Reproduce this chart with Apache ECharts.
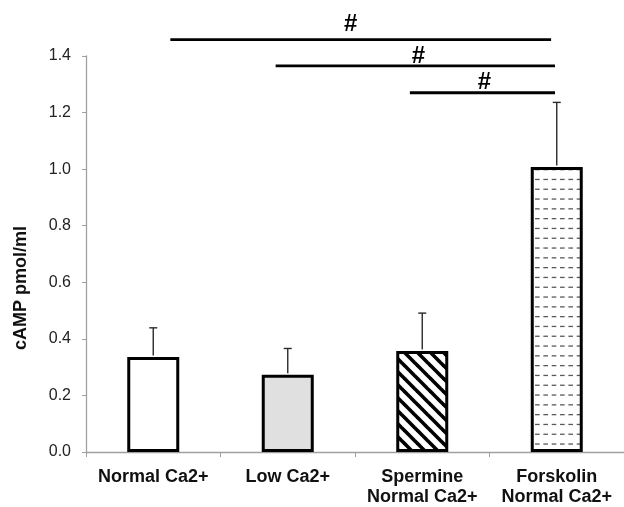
<!DOCTYPE html>
<html>
<head>
<meta charset="utf-8">
<script src="https://cdn.jsdelivr.net/npm/echarts@6/dist/echarts.min.js"></script>
<style>
  html, body { margin: 0; padding: 0; background: #fff; }
  #chart { width: 624px; height: 507px; }
</style>
</head>
<body>
<div id="chart"></div>
<script>
// cAMP levels per treatment group
const categories = ['Normal Ca2+', 'Low Ca2+', 'Spermine\nNormal Ca2+', 'Forskolin\nNormal Ca2+'];
const meanValues = [0.336, 0.273, 0.357, 1.008];
const errorValues = [0.103, 0.093, 0.134, 0.228];

// y axis ticks
const yMin = 0;
const yMax = 1.4;
const yStep = 0.2;

// significance brackets: from group, to group, level (pmol/ml), mark
const bracketFrom = [0, 1, 2];
const bracketTo = [3, 3, 3];
const bracketLevel = [1.458, 1.365, 1.270];
const bracketMark = ['#', '#', '#'];

const FONT = '"Liberation Sans", Arial, Helvetica, sans-serif';

// diagonal hatch fill
function stripePattern() {
  const s = 13;
  const c = document.createElement('canvas');
  c.width = s; c.height = s;
  const ctx = c.getContext('2d');
  ctx.fillStyle = '#fff';
  ctx.fillRect(0, 0, s, s);
  ctx.strokeStyle = '#000';
  ctx.lineWidth = 3.6;
  for (let k = -1; k <= 1; k++) {
    ctx.beginPath();
    ctx.moveTo(k * s - 2, -2);
    ctx.lineTo(k * s + s + 2, s + 2);
    ctx.stroke();
  }
  return { image: c, repeat: 'repeat' };
}

// horizontal dashed-line fill
function dashPattern() {
  const w = 25, h = 49;
  const c = document.createElement('canvas');
  c.width = w; c.height = h;
  const ctx = c.getContext('2d');
  ctx.fillStyle = '#fff';
  ctx.fillRect(0, 0, w, h);
  ctx.fillStyle = '#5a5a5a';
  for (let r = 0; r < 5; r++) {
    const y = 2.4 + r * 9.8;
    for (let j = 0; j < 3; j++) {
      ctx.fillRect(1.7 + j * (w / 3), y, 4.6, 1.3);
    }
  }
  return { image: c, repeat: 'repeat' };
}

const barFills = ['#ffffff', '#e0e0e0', stripePattern(), dashPattern()];

const chart = echarts.init(document.getElementById('chart'), null, { renderer: 'canvas' });

const axisGrey = '#a0a0a0';

// per-bracket layout tweaks: start/end inset (fraction of band), mark offset (px)
const bracketStartInset = [0.127, -0.09, -0.092];
const bracketEndInset = [-0.042, -0.013, -0.013];
const markOffset = [[-10, -15], [3, -10], [2, -10]];

chart.setOption({
  animation: false,
  grid: { left: 86, width: 543, top: 56, bottom: 52, containLabel: false },
  xAxis: {
    type: 'category',
    data: categories,
    axisLine: { lineStyle: { color: axisGrey, width: 1.3 } },
    axisTick: { show: true, length: 5, lineStyle: { color: axisGrey, width: 1 } },
    axisLabel: {
      interval: 0,
      margin: 15,
      color: '#111',
      fontFamily: FONT,
      fontWeight: 'bold',
      fontSize: 18,
      lineHeight: 20
    }
  },
  yAxis: {
    type: 'value',
    min: yMin,
    max: yMax,
    interval: yStep,
    name: 'cAMP pmol/ml',
    nameLocation: 'middle',
    nameGap: 56,
    nameRotate: 90,
    nameTextStyle: {
      fontFamily: FONT,
      fontWeight: 'bold',
      fontSize: 18,
      color: '#111',
      padding: [0, 68, 0, 0]
    },
    axisLine: { show: true, lineStyle: { color: axisGrey, width: 1.3 } },
    axisTick: { show: true, length: 4, lineStyle: { color: axisGrey, width: 1 } },
    splitLine: { show: false },
    axisLabel: {
      margin: 15,
      color: '#222',
      fontFamily: FONT,
      fontSize: 16,
      formatter: v => v.toFixed(1)
    }
  },
  series: [
    {
      type: 'bar',
      barWidth: 52,
      z: 2,
      data: meanValues.map((v, i) => ({
        value: v,
        itemStyle: { color: barFills[i], borderColor: '#000', borderWidth: 3 }
      }))
    },
    {
      // upper error bars
      type: 'custom',
      z: 3,
      data: meanValues.map((v, i) => [i, v, errorValues[i]]),
      renderItem: function (params, api) {
        const i = api.value(0);
        const v = api.value(1);
        const e = api.value(2);
        const base = api.coord([i, v]);
        const top = api.coord([i, v + e]);
        const st = { stroke: '#2a2a2a', lineWidth: 1.4 };
        return {
          type: 'group',
          children: [
            { type: 'line', shape: { x1: base[0], y1: base[1] - 1.5, x2: top[0], y2: top[1] }, style: st },
            { type: 'line', shape: { x1: top[0] - 4, y1: top[1], x2: top[0] + 4, y2: top[1] }, style: st }
          ]
        };
      }
    },
    {
      // significance brackets with marks
      type: 'custom',
      z: 4,
      clip: false,
      data: bracketFrom.map((f, k) => [f, bracketTo[k], bracketLevel[k], k]),
      renderItem: function (params, api) {
        const f = api.value(0);
        const t = api.value(1);
        const lvl = api.value(2);
        const k = api.value(3);
        const band = api.size([1, 0])[0];
        const p1 = api.coord([f, lvl]);
        const p2 = api.coord([t, lvl]);
        const x1 = p1[0] + bracketStartInset[k] * band;
        const x2 = p2[0] + bracketEndInset[k] * band;
        const y = p1[1];
        return {
          type: 'group',
          children: [
            { type: 'line', shape: { x1: x1, y1: y, x2: x2, y2: y }, style: { stroke: '#000', lineWidth: 2.8 } },
            {
              type: 'text',
              x: (x1 + x2) / 2 + markOffset[k][0],
              y: y + markOffset[k][1],
              style: {
                text: bracketMark[k],
                font: 'bold 24px ' + FONT,
                fill: '#000',
                align: 'center',
                verticalAlign: 'middle'
              }
            }
          ]
        };
      }
    }
  ]
});
</script>
</body>
</html>
